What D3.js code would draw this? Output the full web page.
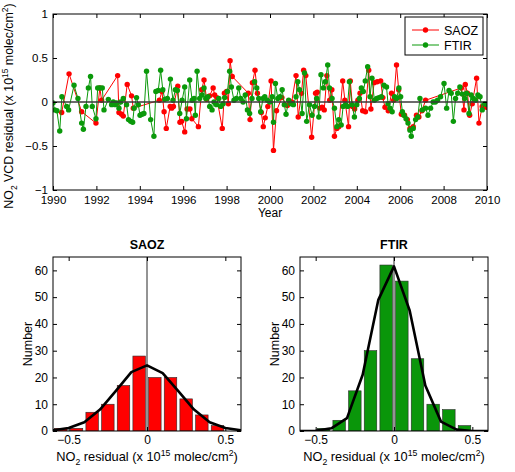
<!DOCTYPE html>
<html lang="en">
<head>
<meta charset="utf-8">
<style>
  body { margin: 0; background: white; }
  svg { font-family: "Liberation Sans", Arial, sans-serif; }
  .axis text { font-family: "Liberation Sans", Arial, sans-serif; fill: #000; }
  .axis path, .axis line { stroke: #000; }
</style>
<title></title>
</head>
<body>
<script src="https://cdnjs.cloudflare.com/ajax/libs/d3/7.8.5/d3.min.js"></script>
<script>

// time series residuals [decimal year, residual]
var saoz = [
  [1990.40,-0.12],[1990.74,0.32],[1991.32,-0.11],[1991.98,-0.24],[1992.16,0.16],[1992.24,0.02],
  [1992.98,0.30],[1993.04,-0.12],[1993.16,-0.14],[1993.24,-0.16],[1993.42,0.20],[1993.62,0.07],
  [1993.70,-0.07],[1994.90,0.02],[1995.02,0.12],[1995.12,-0.11],[1995.22,-0.30],[1995.40,-0.05],
  [1995.47,-0.07],[1995.55,-0.05],[1995.75,0.18],[1995.85,-0.23],[1995.93,-0.22],[1996.07,-0.34],
  [1996.18,-0.08],[1996.31,-0.08],[1996.40,-0.19],[1996.70,-0.28],[1996.85,0.14],[1996.96,0.25],
  [1997.08,0.03],[1997.22,0.07],[1997.38,0.16],[1997.45,0.08],[1997.55,0.05],[1997.80,-0.30],
  [1997.90,0.10],[1998.00,0.12],[1998.08,-0.02],[1998.16,0.47],[1998.26,0.29],[1999.00,0.10],
  [1999.08,-0.20],[1999.19,0.22],[1999.31,0.36],[1999.42,0.10],[1999.60,-0.12],[1999.69,-0.28],
  [1999.78,-0.18],[1999.90,-0.05],[2000.05,0.24],[2000.16,-0.55],[2000.30,-0.10],[2000.55,0.05],
  [2000.80,-0.04],[2001.00,0.00],[2001.20,0.30],[2001.30,-0.17],[2001.45,0.10],[2001.55,0.36],
  [2001.65,0.30],[2001.92,-0.40],[2002.10,0.10],[2002.18,0.11],[2002.30,-0.07],[2002.40,-0.06],
  [2002.50,-0.09],[2002.62,0.30],[2002.75,0.02],[2002.85,0.14],[2002.97,-0.39],[2003.08,-0.30],
  [2003.17,-0.28],[2003.35,0.24],[2003.45,0.02],[2003.62,-0.28],[2003.70,0.24],[2003.80,-0.05],
  [2003.90,-0.08],[2004.05,0.02],[2004.15,0.10],[2004.27,-0.10],[2004.40,-0.11],[2004.55,0.36],
  [2004.65,-0.08],[2004.80,0.22],[2004.94,0.23],[2005.10,0.24],[2005.20,0.05],[2005.30,-0.06],
  [2005.45,-0.10],[2005.60,0.10],[2005.70,0.02],[2005.83,0.42],[2005.93,0.14],[2006.05,-0.14],
  [2006.20,-0.15],[2006.33,-0.20],[2006.45,-0.30],[2006.60,-0.28],[2006.75,-0.15],[2006.86,-0.17],
  [2007.00,-0.10],[2007.17,0.02],[2008.82,0.16],[2008.94,-0.09],[2009.00,0.20],[2009.10,0.10],
  [2009.20,-0.15],[2009.32,-0.02],[2009.52,0.27],[2009.63,-0.24],[2009.78,-0.05],[2009.97,-0.06]
];

var ftir = [
  [1990.00,-0.01],[1990.08,-0.09],[1990.18,-0.10],[1990.31,-0.33],[1990.41,0.06],[1990.63,-0.05],
  [1990.72,-0.09],[1990.97,0.19],[1991.15,0.04],[1991.32,-0.24],[1991.40,-0.31],[1991.52,-0.05],
  [1991.63,0.16],[1991.73,0.29],[1991.81,-0.05],[1991.98,-0.19],[1992.06,0.16],[1992.16,0.16],
  [1992.27,0.16],[1992.35,-0.09],[1992.55,0.03],[1992.70,-0.03],[1992.78,0.00],[1992.86,-0.03],
  [1992.93,-0.01],[1993.04,-0.07],[1993.12,0.00],[1993.24,0.04],[1993.39,-0.03],[1993.48,-0.20],
  [1993.58,-0.22],[1993.67,-0.23],[1993.74,-0.07],[1993.85,0.05],[1993.93,-0.03],[1994.01,-0.15],
  [1994.10,-0.14],[1994.19,-0.13],[1994.31,0.35],[1994.50,-0.20],[1994.65,-0.39],[1994.74,0.12],
  [1994.85,0.13],[1994.96,0.36],[1995.06,0.14],[1995.15,0.03],[1995.27,0.04],[1995.41,0.26],
  [1995.53,0.02],[1995.64,0.14],[1995.73,0.13],[1995.84,-0.13],[1995.95,0.02],[1996.07,0.17],
  [1996.15,-0.19],[1996.30,0.25],[1996.41,0.02],[1996.50,0.04],[1996.56,-0.15],[1996.64,0.35],
  [1996.76,0.04],[1996.87,0.08],[1996.96,0.16],[1997.04,0.04],[1997.14,0.06],[1997.22,-0.05],
  [1997.33,-0.09],[1997.42,0.00],[1997.53,-0.03],[1997.64,0.04],[1997.73,-0.05],[1997.84,-0.02],
  [1997.91,0.05],[1998.04,0.12],[1998.14,0.35],[1998.22,0.17],[1998.34,0.02],[1998.45,0.04],
  [1998.56,0.16],[1998.65,0.04],[1998.76,0.00],[1998.86,0.08],[1998.96,-0.09],[1999.06,-0.13],
  [1999.17,0.04],[1999.29,0.23],[1999.39,0.16],[1999.48,0.04],[1999.57,-0.11],[1999.68,0.04],
  [1999.76,0.06],[1999.88,0.02],[1999.99,0.00],[2000.10,0.06],[2000.16,-0.23],[2000.25,0.21],
  [2000.36,0.04],[2000.46,0.06],[2000.56,0.14],[2000.66,-0.03],[2000.74,-0.14],[2000.86,0.02],
  [2000.97,-0.02],[2001.08,-0.03],[2001.20,0.06],[2001.28,0.23],[2001.36,0.14],[2001.48,-0.13],
  [2001.59,0.33],[2001.69,-0.22],[2001.82,-0.03],[2001.94,-0.15],[2002.05,-0.05],[2002.15,0.04],
  [2002.25,-0.17],[2002.35,0.31],[2002.46,0.16],[2002.55,0.23],[2002.66,0.42],[2002.74,0.16],
  [2002.86,0.04],[2002.97,-0.07],[2003.08,-0.28],[2003.17,-0.20],[2003.28,-0.26],[2003.37,-0.05],
  [2003.48,-0.03],[2003.57,-0.05],[2003.66,0.23],[2003.78,-0.03],[2003.89,-0.17],[2004.00,-0.03],
  [2004.12,0.04],[2004.21,0.16],[2004.30,0.12],[2004.39,0.24],[2004.50,0.40],[2004.61,0.06],
  [2004.70,0.27],[2004.81,0.02],[2004.92,0.04],[2005.02,0.05],[2005.13,0.06],[2005.25,0.19],
  [2005.37,0.17],[2005.44,-0.02],[2005.53,-0.07],[2005.63,-0.11],[2005.74,0.06],[2005.84,0.04],
  [2005.94,0.16],[2006.02,0.06],[2006.10,-0.11],[2006.17,-0.15],[2006.27,-0.19],[2006.36,-0.24],
  [2006.45,-0.32],[2006.51,-0.39],[2006.60,-0.30],[2006.71,-0.20],[2006.81,-0.17],[2006.91,0.04],
  [2007.02,-0.09],[2007.17,-0.07],[2007.28,-0.15],[2007.40,-0.07],[2007.52,0.00],[2007.62,0.00],
  [2007.72,0.02],[2007.86,0.06],[2008.02,0.21],[2008.14,-0.07],[2008.25,0.13],[2008.35,0.10],
  [2008.45,-0.22],[2008.55,0.04],[2008.65,0.10],[2008.75,0.17],[2008.86,0.09],[2008.97,0.04],
  [2009.06,0.10],[2009.17,-0.13],[2009.27,0.08],[2009.37,0.04],[2009.47,0.02],[2009.58,0.08],
  [2009.68,0.06],[2009.78,-0.09],[2009.89,-0.02],[2010.01,-0.03]
];

// histograms
var binCenters = [-0.55,-0.45,-0.35,-0.25,-0.15,-0.05,0.05,0.15,0.25,0.35,0.45,0.55];
var saozCounts = [1,1,7,10,17,28,20,20,12,6,2,0];
var ftirCounts = [0,1,4,15,30,62,56,27,10,8,2,0];

// fitted gaussian curves, read at 0.1 steps
var fitX    = [-0.6,-0.5,-0.4,-0.3,-0.2,-0.1,0,0.1,0.2,0.3,0.4,0.5,0.6];
var saozFit = [0.3,1.1,3.3,8.0,14.9,22.0,24.5,21.6,14.9,8.0,3.3,1.1,0.3];
var ftirFit = [0,0.1,1.0,4.8,21,49,61.5,45,17,3.5,0.5,0,0];

var yearTicks = d3.range(1990, 2011, 2);
var residTicks = [-1,-0.5,0,0.5,1];
var histXTicks = [-0.5,0,0.5];
var countTicks = [0,10,20,30,40,50,60];

var RED = "#ff0000", GREEN = "#0a990a";
var fmt = d3.format("~g");

var svg = d3.select("body").append("svg")
    .attr("width", 515)
    .attr("height", 472);

// write text with sub/superscripts: parts = [[text, "n"|"sub"|"sup"], ...]
function richText(sel, parts, size) {
  var shift = 0;
  parts.forEach(function(p) {
    var t = sel.append("tspan").text(p[0]);
    var target = p[1] == "sub" ? size * 0.3 : (p[1] == "sup" ? -size * 0.4 : 0);
    t.attr("dy", target - shift);
    if (p[1] != "n") t.attr("font-size", size * 0.68);
    shift = target;
  });
}

var unitParts = [[" (x 10","n"],["15","sup"],[" molec/cm","n"],["2","sup"],[")","n"]];

// draw inward ticks on all four sides plus a box
function frame(g, x, y, xt, yt, size, pad) {
  var x0 = x.range()[0], x1 = x.range()[1], y0 = y.range()[1], y1 = y.range()[0];
  g.append("g").attr("class", "axis").attr("transform", "translate(0," + y1 + ")")
    .call(d3.axisBottom(x).tickValues(xt).tickFormat(fmt).tickSize(-4).tickSizeOuter(0).tickPadding(pad));
  g.append("g").attr("class", "axis").attr("transform", "translate(0," + y0 + ")")
    .call(d3.axisTop(x).tickValues(xt).tickFormat("").tickSize(-4).tickSizeOuter(0));
  g.append("g").attr("class", "axis").attr("transform", "translate(" + x0 + ",0)")
    .call(d3.axisLeft(y).tickValues(yt).tickFormat(fmt).tickSize(-4).tickSizeOuter(0).tickPadding(5));
  g.append("g").attr("class", "axis").attr("transform", "translate(" + x1 + ",0)")
    .call(d3.axisRight(y).tickValues(yt).tickFormat("").tickSize(-4).tickSizeOuter(0));
  g.selectAll(".axis text").attr("font-size", size);
  g.selectAll(".axis .domain").remove();
  g.append("rect")
    .attr("x", x0).attr("y", y0)
    .attr("width", x1 - x0).attr("height", y1 - y0)
    .attr("fill", "none").attr("stroke", "#000").attr("stroke-width", 1);
}

// ---- top: time series ----
var x = d3.scaleLinear().domain([1990, 2010]).range([53, 487]);
var y = d3.scaleLinear().domain([-1, 1]).range([190, 14]);

var topG = svg.append("g");
topG.append("clipPath").attr("id", "clipTop").append("rect")
  .attr("x", 53).attr("y", 14).attr("width", 434).attr("height", 176);

var plot = topG.append("g").attr("clip-path", "url(#clipTop)");
var line = d3.line().x(function(d) { return x(d[0]); }).y(function(d) { return y(d[1]); });

[[saoz, RED], [ftir, GREEN]].forEach(function(s) {
  plot.append("path").datum(s[0])
    .attr("d", line).attr("fill", "none")
    .attr("stroke", s[1]).attr("stroke-width", 1);
  plot.selectAll(null).data(s[0]).enter().append("circle")
    .attr("cx", function(d) { return x(d[0]); })
    .attr("cy", function(d) { return y(d[1]); })
    .attr("r", 2.7).attr("fill", s[1]);
});

plot.append("line")
  .attr("x1", x(1990)).attr("x2", x(2010))
  .attr("y1", y(0)).attr("y2", y(0))
  .attr("stroke", "#3a3a3a").attr("stroke-width", 1.3);

frame(topG, x, y, yearTicks, residTicks, 11.5, 6);

topG.append("text").attr("x", 270).attr("y", 217)
  .attr("text-anchor", "middle").attr("font-size", 12).text("Year");

var yl = topG.append("text")
  .attr("transform", "translate(13,106) rotate(-90)")
  .attr("text-anchor", "middle").attr("font-size", 12.4);
richText(yl, [["NO","n"],["2","sub"],[" VCD residual","n"]].concat(unitParts), 12.4);

// legend
var leg = topG.append("g");
leg.append("rect").attr("x", 405).attr("y", 17).attr("width", 78).attr("height", 38)
  .attr("fill", "white").attr("stroke", "#000").attr("stroke-width", 1);
[["SAOZ", RED, 30], ["FTIR", GREEN, 45]].forEach(function(e) {
  leg.append("line").attr("x1", 412).attr("x2", 439).attr("y1", e[2]).attr("y2", e[2])
    .attr("stroke", e[1]).attr("stroke-width", 1);
  leg.append("circle").attr("cx", 425.5).attr("cy", e[2]).attr("r", 2.7).attr("fill", e[1]);
  leg.append("text").attr("x", 444).attr("y", e[2] + 4.5).attr("font-size", 12.5).text(e[0]);
});

// ---- bottom: histograms ----
var hy = d3.scaleLinear().domain([0, 65]).range([431, 257]);

function histogram(x0, x1, title, counts, fit, color, id) {
  var hx = d3.scaleLinear().domain([-0.6, 0.6]).range([x0, x1]);
  var g = svg.append("g");
  g.append("clipPath").attr("id", id).append("rect")
    .attr("x", x0).attr("y", 257).attr("width", x1 - x0).attr("height", 174);
  var inner = g.append("g").attr("clip-path", "url(#" + id + ")");

  inner.append("line")
    .attr("x1", hx(0)).attr("x2", hx(0)).attr("y1", hy(65)).attr("y2", hy(0))
    .attr("stroke", "#111").attr("stroke-width", 0.9);

  inner.selectAll("rect.bar").data(binCenters).enter().append("rect")
    .attr("class", "bar")
    .attr("x", function(d) { return hx(d - 0.04); })
    .attr("width", function(d) { return hx(d + 0.04) - hx(d - 0.04); })
    .attr("y", function(d, i) { return hy(counts[i]); })
    .attr("height", function(d, i) { return hy(0) - hy(counts[i]); })
    .attr("fill", color).attr("stroke", "#2a2a2a").attr("stroke-width", 0.6);

  inner.append("path").datum(fitX)
    .attr("d", d3.line().x(function(d) { return hx(d); })
                        .y(function(d, i) { return hy(fit[i]); }))
    .attr("fill", "none").attr("stroke", "#000").attr("stroke-width", 2.6)
    .attr("stroke-linejoin", "round");

  frame(g, hx, hy, histXTicks, countTicks, 12, 4);

  var cx = (x0 + x1) / 2;
  g.append("text").attr("x", cx).attr("y", 249)
    .attr("text-anchor", "middle").attr("font-size", 12.5).attr("font-weight", "bold").text(title);

  var xl = g.append("text").attr("x", cx).attr("y", 461)
    .attr("text-anchor", "middle").attr("font-size", 12.8);
  richText(xl, [["NO","n"],["2","sub"],[" residual","n"]].concat(unitParts), 12.8);

  g.append("text")
    .attr("transform", "translate(" + (x0 - 21.5) + ",344) rotate(-90)")
    .attr("text-anchor", "middle").attr("font-size", 12.5).text("Number");
}

histogram(53, 241, "SAOZ", saozCounts, saozFit, RED, "clipH1");
histogram(300, 488, "FTIR", ftirCounts, ftirFit, "#0a960a", "clipH2");

</script>
</body>
</html>
